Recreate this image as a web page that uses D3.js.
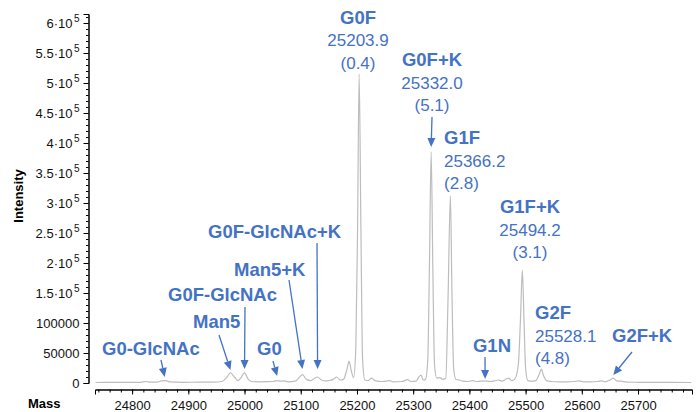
<!DOCTYPE html>
<html>
<head>
<meta charset="utf-8">
<script src="https://cdn.jsdelivr.net/npm/d3@7/dist/d3.min.js"></script>
<style>
  html, body { margin: 0; padding: 0; background: #fff; }
  svg { display: block; font-family: "Liberation Sans", Arial, sans-serif; }
</style>
</head>
<body>
<svg id="chart" width="699" height="412"></svg>
<script>
// Deconvoluted intact-mass spectrum (mass in Da, intensity in counts)
const spectrumMass = [
  24735, 24760, 24790, 24815, 24825, 24832, 24845, 24852, 24860, 24868,
  24890, 24920, 24945, 24960, 24968, 24975, 24982, 24988, 24993, 25000,
  25006, 25012, 25025, 25040, 25050, 25058, 25064, 25070, 25078, 25090,
  25097, 25103, 25110, 25118, 25125, 25130, 25137, 25145, 25150, 25158,
  25164, 25170, 25176, 25182, 25186, 25190, 25194, 25198, 25201, 25203.9,
  25207, 25210, 25214, 25220, 25226, 25232, 25245, 25258, 25265, 25280,
  25290, 25296, 25305, 25310, 25314, 25318, 25322, 25326, 25329, 25332.0,
  25335, 25338, 25342, 25348, 25352, 25358, 25362, 25366.2, 25369, 25372,
  25376, 25382, 25388, 25398, 25406, 25412, 25420, 25428, 25436, 25445,
  25452, 25458, 25466, 25470, 25475, 25481, 25487, 25491, 25494.2, 25497,
  25500, 25504, 25510, 25518, 25524, 25528.1, 25532, 25537, 25545, 25560,
  25575, 25585, 25595, 25603, 25615, 25628, 25635, 25642, 25650, 25656,
  25662, 25670, 25680, 25700, 25730, 25760, 25795
];
const spectrumIntensity = [
  800, 1000, 900, 1200, 2500, 1500, 1500, 3500, 3800, 1800,
  1200, 1300, 1500, 2500, 9000, 17000, 10000, 4000, 8000, 17000,
  7000, 2500, 2000, 2200, 2500, 4000, 3000, 3500, 2000, 3000,
  9000, 14000, 6000, 4000, 8000, 10000, 5000, 3500, 4000, 6000,
  10000, 5000, 6000, 22000, 36000, 20000, 9000, 60000, 250000, 515000,
  260000, 40000, 5000, 4000, 8000, 4000, 2500, 4000, 2000, 2500,
  5500, 2500, 3000, 10000, 13000, 5000, 6000, 40000, 200000, 385000,
  190000, 30000, 8000, 9000, 6000, 8000, 140000, 312000, 150000, 25000,
  6000, 5000, 3000, 2500, 4000, 2500, 3000, 3500, 2500, 3500,
  5000, 3000, 7000, 8000, 4000, 7000, 30000, 110000, 188000, 110000,
  25000, 4000, 3000, 4000, 14000, 23000, 12000, 4000, 2500, 2000,
  2000, 2500, 3500, 2000, 2000, 2500, 3500, 2000, 5000, 8000,
  3500, 3000, 1500, 1200, 1000, 1000, 800
];

// Tick values
const xMajorTicks = [24800, 24900, 25000, 25100, 25200, 25300, 25400, 25500, 25600, 25700];
const yMajorTicks = [0, 50000, 100000, 150000, 200000, 250000, 300000, 350000, 400000, 450000, 500000, 550000, 600000];

// Annotated glycoforms: name, mass the label refers to, stated mass, relative error
const glycoNames  = ["G0F", "G0F+K", "G1F", "G1F+K", "G2F", "G2F+K", "G1N",
                     "G0-GlcNAc", "Man5", "G0F-GlcNAc", "G0", "Man5+K", "G0F-GlcNAc+K"];
const glycoMass   = [25203.9, 25332.0, 25366.2, 25494.2, 25528.1, 25656, 25428,
                     24858, 24975, 25000, 25058, 25103, 25130];
const glycoMassLabel = ["25203.9", "25332.0", "25366.2", "25494.2", "25528.1", null, null,
                        null, null, null, null, null, null];
const glycoShare  = ["(0.4)", "(5.1)", "(2.8)", "(3.1)", "(4.8)", null, null,
                     null, null, null, null, null, null];

// Label placement (pixels): anchor x, title baseline, text-anchor, arrow start and tip y
const labelLayout = {
  "G0F":          { x: 358, y: 23.5, anchor: "middle" },
  "G0F+K":        { x: 432, y: 66,   anchor: "middle", arrow: { x0: 432, y0: 117, y1: 147 } },
  "G1F":          { x: 444, y: 144,  anchor: "start" },
  "G1F+K":        { x: 530, y: 213,  anchor: "middle" },
  "G2F":          { x: 535, y: 319,  anchor: "start" },
  "G2F+K":        { x: 612, y: 342,  anchor: "start",  arrow: { x0: 632, y0: 352, y1: 375 } },
  "G1N":          { x: 492, y: 352,  anchor: "middle", arrow: { x0: 485, y0: 357, y1: 379 } },
  "G0-GlcNAc":    { x: 102, y: 355,  anchor: "start",  arrow: { x0: 161, y0: 360, y1: 377 } },
  "Man5":         { x: 193, y: 328,  anchor: "start",  arrow: { x0: 219, y0: 335, y1: 370 } },
  "G0F-GlcNAc":   { x: 168, y: 301,  anchor: "start",  arrow: { x0: 245, y0: 307, y1: 369 } },
  "G0":           { x: 257, y: 355,  anchor: "start",  arrow: { x0: 273, y0: 361, y1: 376 } },
  "Man5+K":       { x: 234, y: 276,  anchor: "start",  arrow: { x0: 289, y0: 280, y1: 369 } },
  "G0F-GlcNAc+K": { x: 208, y: 238,  anchor: "start",  arrow: { x0: 317, y0: 243, y1: 369 } }
};

const blue = "#4472C4";
const svg = d3.select("#chart");

const x = d3.scaleLinear().domain([24734, 25796]).range([95, 692]);
const y = d3.scaleLinear().domain([0, 615000]).range([383, 14]);

// Spectrum trace
const points = spectrumMass.map((m, i) => [m, spectrumIntensity[i]]);
svg.append("path")
  .datum(points)
  .attr("fill", "none")
  .attr("stroke", "#bdbdbd")
  .attr("stroke-width", 1.2)
  .attr("stroke-linejoin", "round")
  .attr("d", d3.line().x(d => x(d[0])).y(d => y(d[1])).curve(d3.curveMonotoneX));

// X axis (offset below the plot, ticks pointing down)
const xAxisY = 389.5;
const xAxis = svg.append("g").attr("transform", `translate(0,${xAxisY})`);
xAxis.call(d3.axisBottom(x).tickValues(d3.range(24740, 25781, 20)).tickSize(3).tickFormat(""));
xAxis.append("g").call(d3.axisBottom(x).tickValues(xMajorTicks).tickSize(5).tickPadding(6)
  .tickFormat(d3.format("d")));
xAxis.selectAll(".domain").attr("stroke", "#000").attr("stroke-width", 1);
xAxis.selectAll(".tick line").attr("stroke", "#000");
xAxis.selectAll("text").attr("font-size", 13).attr("fill", "#111")
  .attr("font-family", "Liberation Sans, Arial, sans-serif").attr("dy", "0.71em");

// Y axis (ticks pointing left)
const yAxisX = 88.5;
const yAxis = svg.append("g").attr("transform", `translate(${yAxisX},0)`);
yAxis.call(d3.axisLeft(y).tickValues(d3.range(0, 610001, 10000)).tickSize(2.5).tickFormat(""));
const yMajor = yAxis.append("g").call(d3.axisLeft(y).tickValues(yMajorTicks).tickSize(5).tickPadding(5)
  .tickFormat(""));
yAxis.selectAll(".domain").attr("stroke", "#000").attr("stroke-width", 1);
yAxis.selectAll(".tick line").attr("stroke", "#000");

// Y tick labels with scientific notation above 100000
yMajor.selectAll(".tick").each(function(v) {
  const t = d3.select(this).append("text")
    .attr("x", -9).attr("dy", "0.35em")
    .attr("text-anchor", "end").attr("fill", "#111").attr("font-size", 13)
    .attr("font-family", "Liberation Sans, Arial, sans-serif");
  if (v <= 100000) {
    t.text(d3.format("d")(v));
  } else {
    t.append("tspan").text(`${v / 1e5}\u00B710`);
    t.append("tspan").attr("dy", -6).attr("dx", 1.5).attr("font-size", 10).text("5");
  }
});

// Axis titles
svg.append("text")
  .attr("transform", "translate(23,196) rotate(-90)")
  .attr("text-anchor", "middle").attr("font-weight", "bold").attr("font-size", 13)
  .text("Intensity");
svg.append("text")
  .attr("x", 28).attr("y", 408)
  .attr("font-weight", "bold").attr("font-size", 13)
  .text("Mass");

// Glycoform annotations
const ann = svg.append("g").attr("fill", blue);
glycoNames.forEach((name, i) => {
  const L = labelLayout[name];
  const g = ann.append("g");
  g.append("text").attr("x", L.x).attr("y", L.y).attr("text-anchor", L.anchor)
    .attr("font-weight", "bold").attr("font-size", 18.5).text(name);
  if (glycoMassLabel[i]) {
    g.append("text").attr("x", L.x).attr("y", L.y + 22.5).attr("text-anchor", L.anchor)
      .attr("font-size", 17).text(glycoMassLabel[i]);
  }
  if (glycoShare[i]) {
    g.append("text").attr("x", L.x).attr("y", L.y + 45).attr("text-anchor", L.anchor)
      .attr("font-size", 17).text(glycoShare[i]);
  }
  if (L.arrow) {
    const x0 = L.arrow.x0, y0 = L.arrow.y0;
    const x1 = x(glycoMass[i]), y1 = L.arrow.y1;
    const ang = Math.atan2(y1 - y0, x1 - x0);
    const hl = 9, hw = 4;
    const bx = x1 - hl * Math.cos(ang), by = y1 - hl * Math.sin(ang);
    g.append("line").attr("x1", x0).attr("y1", y0).attr("x2", bx).attr("y2", by)
      .attr("stroke", blue).attr("stroke-width", 1.3);
    const px = -Math.sin(ang) * hw, py = Math.cos(ang) * hw;
    g.append("path")
      .attr("d", `M${x1},${y1}L${bx + px},${by + py}L${bx - px},${by - py}Z`)
      .attr("fill", blue);
  }
});
</script>
</body>
</html>
